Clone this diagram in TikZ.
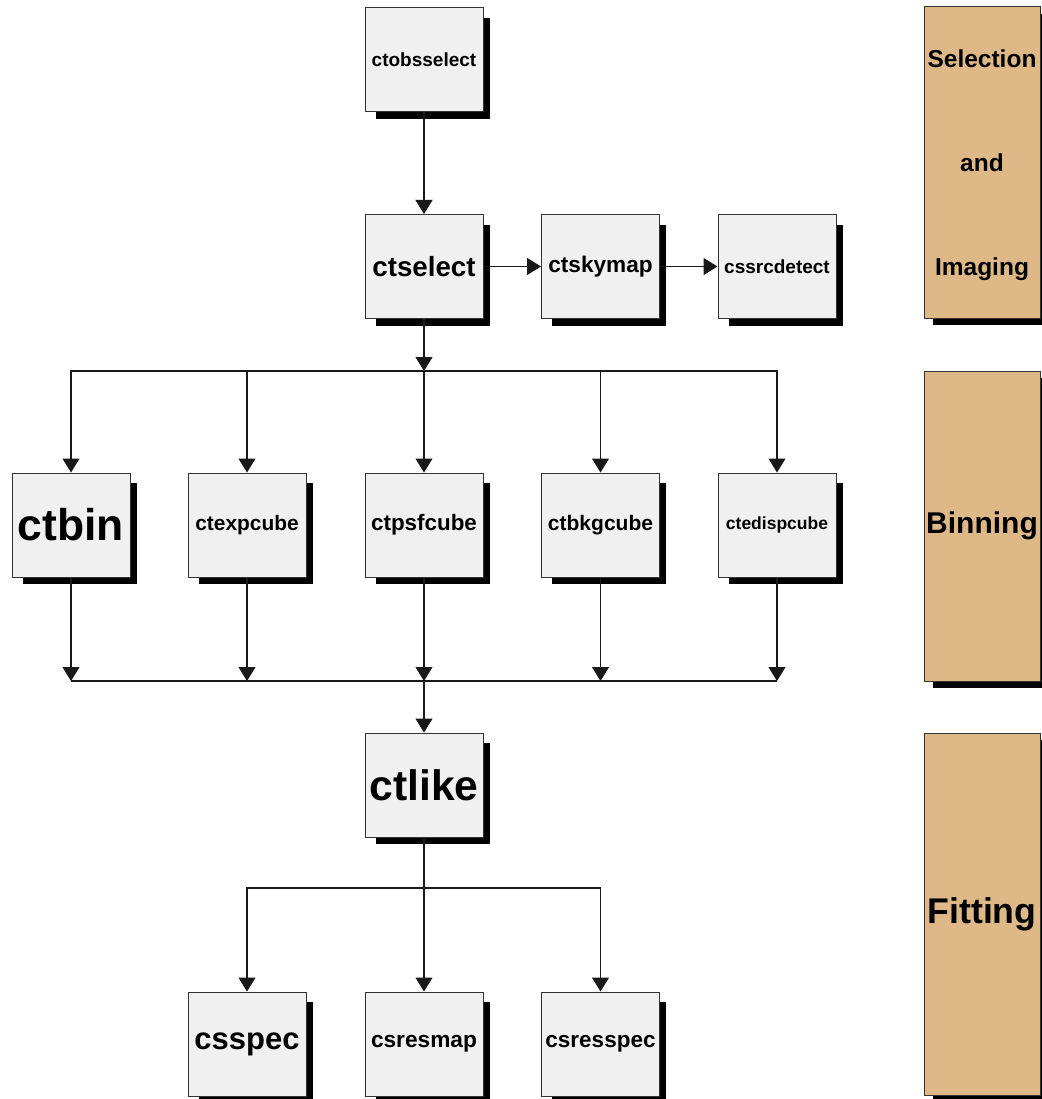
\documentclass[tikz,border=0pt]{standalone}
\usepackage{fontspec}
\setmainfont{Liberation Sans}
\usetikzlibrary{arrows.meta,shadows}

\definecolor{boxgray}{HTML}{F0F0F0}
\definecolor{paneltan}{HTML}{DEB887}
\newcommand{\tsz}[1]{\fontsize{#1}{#1}\selectfont\bfseries}

\tikzset{
  tool/.style={draw=black!80, line width=1pt, fill=boxgray,
    minimum width=118pt, minimum height=104pt, inner sep=0pt,
    drop shadow={shadow xshift=9pt, shadow yshift=-9pt, shadow scale=0.97,
      fill=black, opacity=1}},
  panel/.style={draw=black!80, line width=1pt, fill=paneltan,
    minimum width=116pt, inner sep=0pt, align=center,
    drop shadow={shadow xshift=9pt, shadow yshift=-7pt,
      fill=black, opacity=1}},
  link/.style={draw=black!90, line width=1.1pt},
  flow/.style={link, -{Triangle[width=17pt,length=14pt]}},
}

\begin{document}
\begin{tikzpicture}[x=1pt, y=-1pt]
  \useasboundingbox (0,0) rectangle (1041,1099);

  % selection and imaging
  \node[tool, font=\tsz{19}] (ctobsselect) at (424,59.5) {ctobsselect};
  \node[tool, font=\tsz{27.7}] (ctselect) at (424,266.5) {ctselect};
  \node[tool, font=\tsz{22.6}] (ctskymap) at (600.5,266.5) {ctskymap};
  \node[tool, font=\tsz{19}] (cssrcdetect) at (777,266.5) {cssrcdetect};

  % binning
  \node[tool, font=\tsz{44.4}] (ctbin) at (71,525) {ctbin};
  \node[tool, font=\tsz{20.9}] (ctexpcube) at (247,525) {ctexpcube};
  \node[tool, font=\tsz{22.4}] (ctpsfcube) at (424,525) {ctpsfcube};
  \node[tool, font=\tsz{21}] (ctbkgcube) at (600.5,525) {ctbkgcube};
  \node[tool, font=\tsz{17.5}] (ctedispcube) at (777,525) {ctedispcube};

  % fitting
  \node[tool, font=\tsz{42.6}] (ctlike) at (424,785) {ctlike};
  \node[tool, font=\tsz{31}] (csspec) at (247,1044) {csspec};
  \node[tool, font=\tsz{22.7}] (csresmap) at (424,1044) {csresmap};
  \node[tool, font=\tsz{22.5}] (csresspec) at (600.5,1044) {csresspec};

  % stage panels
  \node[panel, minimum height=311pt, text depth=0pt,
    font=\fontsize{24.5}{104}\selectfont\bfseries]
    (selpanel) at (982,162.5) {Selection\\and\\Imaging};
  \node[panel, minimum height=310pt, font=\tsz{30}] (binpanel) at (982,526) {Binning};
  \node[panel, minimum height=362pt, font=\tsz{35.7}] (fitpanel) at (982,914) {Fitting};

  % bus points
  \coordinate (s1) at (71,371);
  \coordinate (s2) at (247,371);
  \coordinate (s3) at (424,371);
  \coordinate (s4) at (600.5,371);
  \coordinate (s5) at (777,371);
  \coordinate (j1) at (71,681);
  \coordinate (j2) at (247,681);
  \coordinate (j3) at (424,681);
  \coordinate (j4) at (600.5,681);
  \coordinate (j5) at (777,681);
  \coordinate (f1) at (247,888);
  \coordinate (f2) at (424,888);
  \coordinate (f3) at (600.5,888);

  \begin{scope}[flow]
    \draw (ctobsselect) to (ctselect);
    \draw (ctselect) to (ctskymap);
    \draw (ctskymap) to (cssrcdetect);
    \draw (ctselect) to (s3);
    \draw (s3) -- (s1) -- (ctbin);
    \draw (s2) to (ctexpcube);
    \draw (s3) to (ctpsfcube);
    \draw (s4) to (ctbkgcube);
    \draw (s3) -- (s5) -- (ctedispcube);
    \draw (ctbin) to (j1);
    \draw (ctexpcube) to (j2);
    \draw (ctpsfcube) to (j3);
    \draw (ctbkgcube) to (j4);
    \draw (ctedispcube) to (j5);
    \draw (j3) to (ctlike);
    \draw (f2) -- (f1) -- (csspec);
    \draw (f2) to (csresmap);
    \draw (f2) -- (f3) -- (csresspec);
  \end{scope}
  \draw[link] (j1) -- (j5);
  \draw[link] (ctlike) -- (f2);
\end{tikzpicture}
\end{document}
